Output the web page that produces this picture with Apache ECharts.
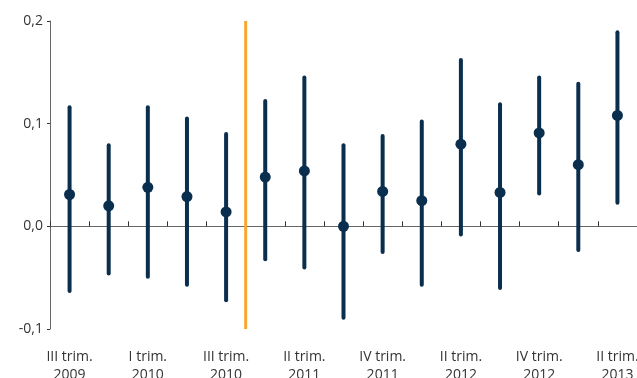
<!DOCTYPE html>
<html>
<head>
<meta charset="utf-8">
<script src="https://cdn.jsdelivr.net/npm/echarts@6/dist/echarts.min.js"></script>
<style>html,body{margin:0;padding:0;background:#fff;}#c{width:637px;height:378px;}</style>
</head>
<body>
<div id="c"></div>
<script>
var categories = [
  "III trim.\n2009", "IV trim.\n2009", "I trim.\n2010", "II trim.\n2010", "III trim.\n2010",
  "I trim.\n2011", "II trim.\n2011", "III trim.\n2011", "IV trim.\n2011", "I trim.\n2012",
  "II trim.\n2012", "III trim.\n2012", "IV trim.\n2012", "I trim.\n2013", "II trim.\n2013"
];
var pointValues = [0.031, 0.020, 0.038, 0.029, 0.014, 0.048, 0.054, 0.000, 0.034, 0.025, 0.080, 0.033, 0.091, 0.060, 0.108];
var highValues  = [0.116, 0.079, 0.116, 0.105, 0.090, 0.122, 0.145, 0.079, 0.088, 0.102, 0.162, 0.119, 0.145, 0.139, 0.189];
var lowValues   = [-0.063, -0.046, -0.049, -0.057, -0.072, -0.032, -0.040, -0.089, -0.025, -0.057, -0.008, -0.060, 0.032, -0.023, 0.023];
var yTicks = { min: -0.1, max: 0.2, interval: 0.1 };
var breakAfterIndex = 4;

var navy = '#0a2e4e';
var chart = echarts.init(document.getElementById('c'), null, { renderer: 'canvas' });
var rangeData = categories.map(function (c, i) { return [i, lowValues[i], highValues[i]]; });

chart.setOption({
  animation: false,
  grid: { left: 50, right: 0, top: 21, bottom: 49, containLabel: false, outerBoundsMode: 'none' },
  xAxis: [
    {
      type: 'category', data: categories, position: 'bottom',
      axisLine: { show: false, onZero: false }, axisTick: { show: false },
      axisLabel: { interval: 1, color: '#333', fontFamily: 'Open Sans', fontSize: 14, lineHeight: 18, margin: 19, hideOverlap: false }
    },
    {
      type: 'category', data: categories, position: 'bottom', gridIndex: 0,
      axisLine: { show: true, onZero: true, lineStyle: { color: '#666', width: 1 } },
      axisTick: { show: true, inside: true, interval: 0, length: 5, lineStyle: { color: '#333' } },
      axisLabel: { show: false, interval: 0 }
    }
  ],
  yAxis: {
    type: 'value', min: yTicks.min, max: yTicks.max, interval: yTicks.interval,
    axisLine: { show: true, lineStyle: { color: '#666' } },
    axisTick: { show: true, length: 3, lineStyle: { color: '#333' } },
    splitLine: { show: false },
    axisLabel: { color: '#333', fontFamily: 'Open Sans', fontSize: 14, margin: 7,
      formatter: function (v) { return v.toFixed(1).replace('.', ','); } }
  },
  series: [
    {
      type: 'custom', xAxisIndex: 0, z: 3,
      renderItem: function (params, api) {
        var i = breakAfterIndex;
        var a = api.coord([i, yTicks.max]);
        var b = api.coord([i + 1, yTicks.min]);
        var x = (a[0] + b[0]) / 2;
        return { type: 'line', shape: { x1: x, y1: a[1], x2: x, y2: b[1] },
          style: { stroke: '#f7a831', lineWidth: 3 } };
      },
      data: [[breakAfterIndex]]
    },
    {
      type: 'custom', xAxisIndex: 0, z: 4,
      renderItem: function (params, api) {
        var lo = api.coord([api.value(0), api.value(1)]);
        var hi = api.coord([api.value(0), api.value(2)]);
        return { type: 'line', shape: { x1: lo[0], y1: lo[1], x2: hi[0], y2: hi[1] },
          style: { stroke: navy, lineWidth: 4, lineCap: 'round' } };
      },
      encode: { x: 0, y: [1, 2] },
      data: rangeData
    },
    {
      type: 'scatter', xAxisIndex: 0, z: 5, symbol: 'circle', symbolSize: 11,
      itemStyle: { color: navy, opacity: 1 }, data: pointValues
    }
  ]
});
</script>
</body>
</html>
